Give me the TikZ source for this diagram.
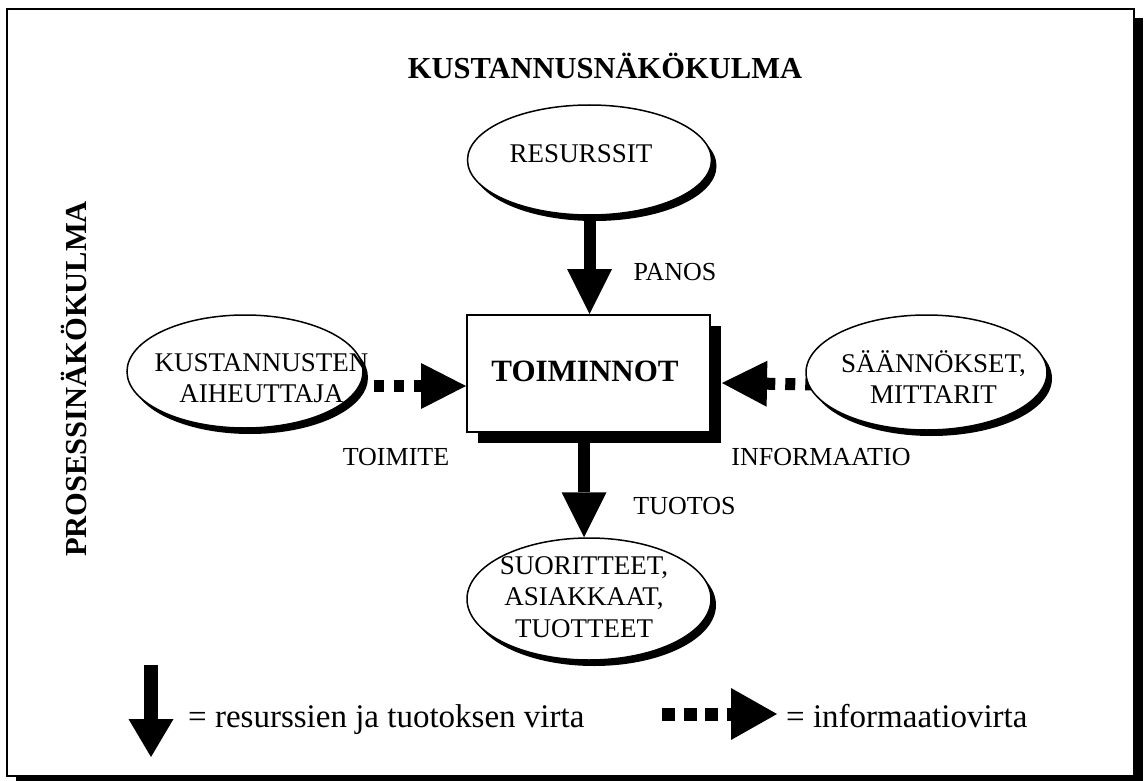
\documentclass[tikz,border=0pt]{standalone}
\usepackage{fontspec}
\setmainfont{Liberation Serif}
\usetikzlibrary{calc,shapes.geometric,arrows.meta}
\pgfdeclarelayer{frame}
\pgfdeclarelayer{flows}
\pgfsetlayers{frame,flows,main}
\tikzset{
  frameline/.style={line width=2pt},
  bubble/.style={ellipse, draw, line width=1.5pt, fill=white, inner sep=0pt,
    preaction={fill=black, transform canvas={shift={(5pt,-6pt)}}}},
  bubbletext/.style={align=center, inner sep=0pt, font=\fontsize{27}{31.5}\selectfont},
  lbl/.style={font=\fontsize{26}{28}\selectfont, inner sep=0pt},
  legendtext/.style={font=\fontsize{33}{36}\selectfont, inner sep=0pt},
  heading/.style={font=\fontsize{30.5}{33}\selectfont\bfseries, inner sep=0pt},
  bigflow/.style={line width=12pt, -{Triangle[width=45pt, length=45pt, line width=0pt]}},
  infoflow/.style={line width=12pt, dash pattern=on 10pt off 10pt,
    -{Triangle[width=46pt, length=45pt, line width=0pt]}},
}
\begin{document}
\begin{tikzpicture}[x=1pt, y=-1pt]
\useasboundingbox (0,0) rectangle (1144,781);

% outer frame with drop shadow
\begin{pgfonlayer}{frame}
\draw[frameline, fill=white, preaction={fill=black, transform canvas={shift={(9pt,-9pt)}}}]
  (7,9) rectangle (1134,776);
\end{pgfonlayer}

% headings
\node[heading] (kust) at (605,66) {KUSTANNUSNÄKÖKULMA};
\node[heading, rotate=90] (pros) at (74,379) {PROSESSINÄKÖKULMA};

% central activity box with shadow
\node[draw, line width=2pt, fill=white, minimum width=243pt, minimum height=117pt,
  preaction={fill=black, transform canvas={shift={(11pt,-11pt)}}}] (toim) at (588.5,373.5) {};
\node[font=\fontsize{31}{33}\selectfont\bfseries, inner sep=0pt] (toimtxt) at (585,371.5) {TOIMINNOT};

% surrounding ellipses
\node[bubble, minimum width=244pt, minimum height=110pt] (res) at (589.5,160) {};
\node[bubbletext] (restxt) at (581,154) {RESURSSIT};

\node[bubble, minimum width=236pt, minimum height=113pt] (aih) at (245,371.5) {};
\node[bubbletext] (aihtxt) at (261.5,378) {KUSTANNUSTEN\\AIHEUTTAJA};

\node[bubble, minimum width=241pt, minimum height=115pt] (saan) at (926.5,372.5) {};
\node[bubbletext] (saantxt) at (933.5,377) {SÄÄNNÖKSET,\\MITTARIT};

\node[bubble, minimum width=244pt, minimum height=122pt] (suor) at (589,599) {};
\node[bubbletext] (suortxt) at (584,597) {SUORITTEET,\\ASIAKKAAT,\\TUOTTEET};

% anchor points of the flows
\coordinate (outstart) at ($(toim.south)+(-4.5,0)$);
\coordinate (outend) at (outstart |- suor.north);
\coordinate (instart) at (res.south);
\coordinate (inend) at (instart |- toim.north);
\coordinate (cdstart) at ($(aih.east)+(-10,14.5)$);
\coordinate (cdend) at ($(toim.west)+(0,12.5)$);
\coordinate (rulestart) at ($(saan.west)+(10,12)$);
\coordinate (ruleend) at ($(toim.east)+(11,9.5)$);

% flows (under the ellipses)
\begin{pgfonlayer}{flows}
\draw[bigflow] (instart) -- (inend);
\draw[bigflow] (outstart) -- (outend);
\draw[infoflow] (cdstart) -- (cdend);
\draw[infoflow] (rulestart) -- (ruleend);
\end{pgfonlayer}

% flow labels
\node[lbl] (panos) at (675,272) {PANOS};
\node[lbl] (tuotos) at (684.5,506) {TUOTOS};
\node[lbl] (toimite) at (396,457) {TOIMITE};
\node[lbl] (info) at (821,457) {INFORMAATIO};

% legend
\coordinate (l1t) at (151,665);
\coordinate (l1b) at (151,757);
\draw[line width=14pt, -{Triangle[width=45pt, length=38pt, line width=0pt]}] (l1t) -- (l1b);
\node[legendtext, anchor=base west] (leg1) at (188,727) {= resurssien ja tuotoksen virta};

\coordinate (l2l) at (662,714);
\coordinate (l2r) at (777,714);
\draw[line width=13pt, dash pattern=on 13pt off 8.5pt,
  -{Triangle[width=52pt, length=46pt, line width=0pt]}] (l2l) -- (l2r);
\node[legendtext, anchor=base west] (leg2) at (786,727) {= informaatiovirta};
\end{tikzpicture}
\end{document}
